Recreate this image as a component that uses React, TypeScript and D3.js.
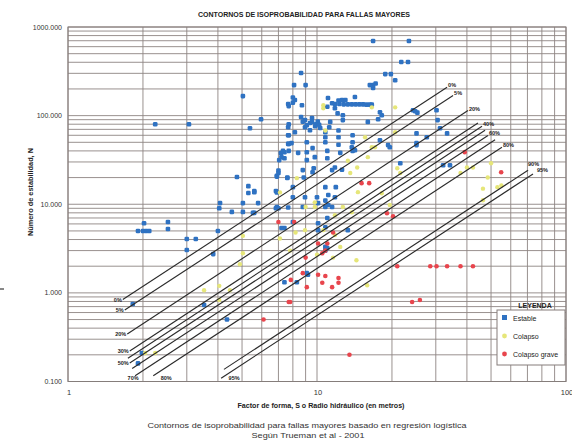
import * as d3 from "d3";

const W = 572;
const H = 441;

// contornos de isoprobabilidad: extremo inferior (S0, N0) y superior (S1, N1)
const contourNames = ["0%", "5%", "20%", "30%", "40%", "50%", "60%", "70%", "80%", "90%", "95%"];
const contourS0 = [1.66, 1.69, 1.73, 1.77, 1.74, 1.77, 1.81, 1.86, 2.2, 4.23, 4.12];
const contourN0 = [0.84, 0.64, 0.344, 0.221, 0.183, 0.162, 0.14, 0.116, 0.116, 0.137, 0.109];
const contourS1 = [33.3, 35.2, 40.4, 44.3, 46.0, 47.3, 48.6, 51.9, 55.3, 70.4, 73.7];
const contourN1 = [209, 169, 114, 82.7, 75.7, 68.2, 59.8, 53.3, 44.0, 24.2, 22.0];

// which contours get a label at each end
const labelsLeft = ["0%", "5%", "20%", "30%", "50%"];
const labelsBottom = ["70%", "80%", "95%"];
const labelsTop = ["0%", "5%", "20%", "40%", "60%", "80%", "90%", "95%"];

const yTicks = [1000, 100, 10, 1, 0.1];
const yTickText = ["1000.000", "100.000", "10.000", "1.000", "0.100"];
const xTicks = [1, 10, 100];

// [S, N]
const estable: [number, number][] = [
  [2.24, 80], [3.06, 80], [5.04, 166], [5.38, 72], [5.96, 91], [4.77, 20.3], [5.3, 16], [5.3, 13.4],
  [5.6, 14.1], [6.84, 14.1], [7.05, 31.5], [7.16, 37.8], [7.4, 33], [7.3, 40], [6.9, 21], [7.0, 24],
  [7.6, 20], [7.7, 128], [7.7, 80], [7.7, 60], [7.7, 48], [7.7, 40], [4.08, 10.3], [4.05, 9],
  [5.04, 10.3], [5.8, 10.3], [4.55, 8.2], [5.04, 8.2], [5.6, 8.0], [6.84, 9],
  [2.02, 6.1], [2.52, 6.3], [2.52, 5.25], [1.91, 5.0], [2.0, 5.0], [2.06, 5.0], [2.12, 5.0],
  [3.0, 4.05], [3.26, 4.05], [3.0, 3.05], [4.0, 5.0], [3.83, 2.74], [3.52, 0.73], [4.35, 0.5],
  [7.4, 1.32], [7.4, 5.4], [1.82, 0.75], [1.98, 0.21], [1.91, 0.16],
  [8.63, 303], [8.09, 221], [9.0, 221], [8.0, 160], [8.0, 140], [7.66, 135], [8.7, 131],
  [11.07, 158], [11.5, 138], [11.0, 126], [11.8, 121], [12.1, 106],
  [11.8, 135], [12.3, 135], [12.8, 134], [13.3, 134], [13.8, 134], [14.3, 134], [14.8, 134],
  [15.3, 134], [15.8, 133], [16.3, 133], [16.6, 133],
  [12.6, 150], [12.2, 148], [13.0, 150], [12.7, 101], [12.7, 89], [11.3, 85], [11.2, 74],
  [8.63, 96.5], [8.95, 89], [9.37, 82.5], [9.83, 76], [10.3, 72.5], [8.95, 74], [9.37, 68.5],
  [8.77, 85.5], [10.07, 85.5], [9.55, 94], [9.55, 85], [9.9, 80], [10.2, 79], [9.1, 78],
  [16.8, 221], [16.3, 221], [16.8, 205], [17.2, 230], [18.8, 294], [19.8, 294], [20.6, 251],
  [21.8, 403], [23.2, 403], [24.3, 115], [25.3, 108], [24.8, 112], [25.1, 49], [19.3, 46.5],
  [17.9, 109], [16.0, 85], [17.6, 91],
  [10.8, 65], [10.8, 57], [10.8, 50], [12.2, 68], [12.2, 57], [12.2, 47], [13.9, 60], [13.9, 50],
  [13.9, 40], [11.0, 40], [11.0, 33], [12.4, 38], [7.66, 74], [7.66, 60], [7.66, 48], [8.15, 65],
  [7.9, 49], [7.4, 38.6], [7.2, 34], [8.4, 38], [9.1, 50], [9.1, 38.6], [9.1, 31.5], [9.6, 43],
  [9.8, 34], [9.7, 25.5], [9.6, 23], [8.77, 24.3], [8.85, 20], [7.0, 22.5], [6.9, 20.5],
  [7.6, 19.8], [8.0, 15.6], [8.0, 12], [7.66, 9.2], [8.95, 12], [10.0, 12], [10.8, 15.6],
  [11.1, 12.7], [11.9, 15.6], [11.8, 12], [11.5, 24.3], [11.8, 26], [12.6, 24.5], [10.8, 9.3],
  [11.5, 9.3], [5.6, 13.7], [6.9, 9.3], [8.77, 9.3],
  [16.8, 695], [23.4, 695], [8.15, 150], [14.2, 162], [30.2, 115], [31.2, 72], [30.5, 89],
  [33.3, 63], [25.1, 63], [27.6, 57], [25.1, 46.5], [21.6, 29], [32.1, 27.5], [34.2, 27.5],
  [17.9, 52.8], [18.2, 101], [19.6, 44], [13.8, 44], [14.2, 40.6],
  [11.0, 7.0], [10.8, 5.5], [13.3, 5.1], [9.2, 1.6], [11.0, 3.2], [7.2, 5.4], [10.1, 6.1],
  [5.53, 8], [6.9, 13.6], [7.0, 9], [8.0, 6.3], [10.1, 10.3], [10.8, 11], [11.1, 9.8],
  [10.1, 5.1], [10.8, 3.3], [10.8, 3.0], [9.1, 1.67], [8.3, 1.32],
];

const colapso: [number, number][] = [
  [10.6, 131], [8.3, 19.7], [7.1, 13.6], [9.0, 9.3], [9.8, 9.3], [12.7, 9.3], [16.6, 124],
  [20.6, 124], [15.6, 57], [16.6, 44], [16.0, 34], [14.5, 26], [13.6, 22.5], [21.6, 22.5],
  [20.6, 65], [10.8, 68], [10.6, 121], [13.3, 31], [17.1, 44], [40.0, 26], [42.3, 26],
  [48.5, 20], [37.7, 22.5], [50, 29], [53, 15.6], [55, 16.3], [46.4, 15], [46.4, 11.1],
  [21.0, 25.5], [18.2, 13.3], [19.6, 9.8], [14.6, 13.7], [13.8, 8.1], [9.8, 10.5],
  [5.04, 4.4], [5.04, 2.8], [4.9, 2.1], [3.52, 1.07], [4.05, 1.2], [4.47, 1.07], [4.05, 0.83],
  [2.04, 0.21], [2.24, 0.21],
  [14.4, 2.33], [11.6, 2.5], [11.8, 4.5], [12.4, 3.3], [15.9, 1.22], [10.6, 5.1], [11.8, 7.5],
  [8.95, 5.1], [8.2, 4.8], [7.1, 4.1], [10.0, 2.7], [7.8, 3.0],
];

const colapsoGrave: [number, number][] = [
  [39.2, 38.7], [54.9, 23], [15.1, 17.3], [16.2, 17.3], [19.1, 7.9], [20.2, 7.3], [8.1, 6.3],
  [10.1, 3.6], [11.0, 3.6], [11.6, 4.8], [10.8, 3.0], [10.5, 2.8], [9.0, 2.5], [8.77, 1.67],
  [7.85, 1.4], [10.1, 1.6], [10.8, 1.55], [10.5, 1.3], [12.2, 1.47], [12.2, 1.3], [11.5, 1.16],
  [9.1, 1.16], [7.8, 0.79], [21.0, 2.0], [28.5, 2.0], [30.2, 2.0], [33.3, 2.0], [37.7, 2.0],
  [42.3, 2.0], [24.1, 0.79], [25.9, 0.83], [13.5, 0.2], [7.0, 6.3], [6.1, 0.5], [7.7, 0.79],
];

const BLUE = "#2f72c2";
const YELLOW = "#e6e679";
const RED = "#e8454d";
const FONT = "'Liberation Sans', Arial, sans-serif";

export default function App() {
  const x = d3.scaleLog().domain([1, 100]).range([68, 566]);
  const y = d3.scaleLog().domain([0.1, 1000]).range([381.5, 27]);
  const [x0, x1] = x.range();
  const [y0, y1] = y.range();

  const idx = (name: string) => contourNames.indexOf(name);

  // offsets for the two far-right labels, which sit above their lines
  const topOffset = (n: string): [number, number] =>
    n === "90%" ? [0, -4.5] : n === "95%" ? [4, -1.5] : [1, 0];

  return (
    <svg
      width={W}
      height={H}
      style={{ position: "absolute", left: 0, top: 0, background: "#fff", fontFamily: FONT }}
    >
      {/* grid */}
      <g stroke="#8d8482" strokeWidth={0.9}>
        {x.ticks().map((t) => (
          <line key={"gx" + t} x1={x(t)} x2={x(t)} y1={y1} y2={y0} />
        ))}
        {y.ticks().map((t) => (
          <line key={"gy" + t} x1={x0} x2={x1} y1={y(t)} y2={y(t)} />
        ))}
      </g>
      <rect x={x0} y={y1} width={x1 - x0} height={y0 - y1} fill="none" stroke="#857d7b" strokeWidth={1} />

      {/* points */}
      <g fill={BLUE}>
        {estable.map((d, i) => (
          <rect key={"e" + i} x={x(d[0]) - 2.3} y={y(d[1]) - 2.3} width={4.6} height={4.6} rx={1.3} />
        ))}
      </g>
      <g fill={YELLOW}>
        {colapso.map((d, i) => (
          <circle key={"c" + i} cx={x(d[0])} cy={y(d[1])} r={2.2} />
        ))}
      </g>
      <g fill={RED}>
        {colapsoGrave.map((d, i) => (
          <circle key={"g" + i} cx={x(d[0])} cy={y(d[1])} r={2.3} />
        ))}
      </g>

      {/* contours */}
      <g stroke="#2b2b2b" strokeWidth={1.15}>
        {contourNames.map((n, i) => (
          <line
            key={"l" + n}
            x1={x(contourS0[i])}
            y1={y(contourN0[i])}
            x2={x(contourS1[i])}
            y2={y(contourN1[i])}
          />
        ))}
      </g>
      <g fontSize={5.5} fontWeight="bold" fill="#222">
        {labelsLeft.map((n) => (
          <text key={"ll" + n} x={x(contourS0[idx(n)]) - 1} y={y(contourN0[idx(n)]) + 2} textAnchor="end">
            {n}
          </text>
        ))}
        {labelsBottom.map((n) => (
          <text
            key={"lb" + n}
            x={x(contourS0[idx(n)]) + (n === "70%" ? -2 : 13)}
            y={379.5}
            textAnchor="middle"
          >
            {n}
          </text>
        ))}
        {labelsTop.map((n) => {
          const i = idx(n);
          const [dx, dy] = topOffset(n);
          return (
            <text key={"lt" + n} x={x(contourS1[i]) + dx} y={y(contourN1[i]) + dy}>
              {n}
            </text>
          );
        })}
      </g>

      {/* axes labels */}
      <g fontSize={7} fill="#333" textAnchor="end">
        {yTicks.map((t, i) => (
          <text key={"yt" + t} x={x0 - 6} y={y(t) + 2.5}>
            {yTickText[i]}
          </text>
        ))}
      </g>
      <g fontSize={7.5} fill="#333" textAnchor="middle">
        {xTicks.map((t) => (
          <text key={"xt" + t} x={x(t) + 1} y={395}>
            {t}
          </text>
        ))}
      </g>

      <text x={304} y={17} fontSize={6.8} fontWeight="bold" fill="#222" textAnchor="middle" textLength={212} lengthAdjust="spacingAndGlyphs">
        CONTORNOS DE ISOPROBABILIDAD PARA FALLAS MAYORES
      </text>
      <text x={321} y={408} fontSize={6.6} fontWeight="bold" fill="#222" textAnchor="middle" textLength={167} lengthAdjust="spacingAndGlyphs">
        Factor de forma, S o Radio hidráulico (en metros)
      </text>
      <text
        transform="translate(33,192) rotate(-90)"
        fontSize={6.4}
        fontWeight="bold"
        fill="#222"
        textAnchor="middle"
        textLength={88}
        lengthAdjust="spacingAndGlyphs"
      >
        Número de estabilidad, N
      </text>
      <text x={307} y={428} fontSize={7.2} fill="#333" textAnchor="middle" textLength={319} lengthAdjust="spacingAndGlyphs">
        Contornos de isoprobabilidad para fallas mayores basado en regresión logística
      </text>
      <text x={308} y={438} fontSize={7.2} fill="#333" textAnchor="middle" textLength={113} lengthAdjust="spacingAndGlyphs">
        Según Trueman et  al - 2001
      </text>

      {/* legend */}
      <text x={535} y={308} fontSize={7} fontWeight="bold" fill="#222" textAnchor="middle">
        LEYENDA
      </text>
      <rect x={497} y={310} width={68} height={55} fill="#fff" stroke="#857d7b" strokeWidth={1} />
      <rect x={502} y={315} width={5} height={5} fill={BLUE} />
      <text x={513} y={320.5} fontSize={7} fill="#222">Estable</text>
      <circle cx={504.5} cy={336} r={2.4} fill={YELLOW} />
      <text x={513} y={338.5} fontSize={7} fill="#222">Colapso</text>
      <circle cx={504.5} cy={354} r={2.4} fill={RED} />
      <text x={513} y={356.5} fontSize={7} fill="#222">Colapso grave</text>

      <line x1={0} x2={4} y1={289} y2={289} stroke="#111" strokeWidth={1} />
    </svg>
  );
}
